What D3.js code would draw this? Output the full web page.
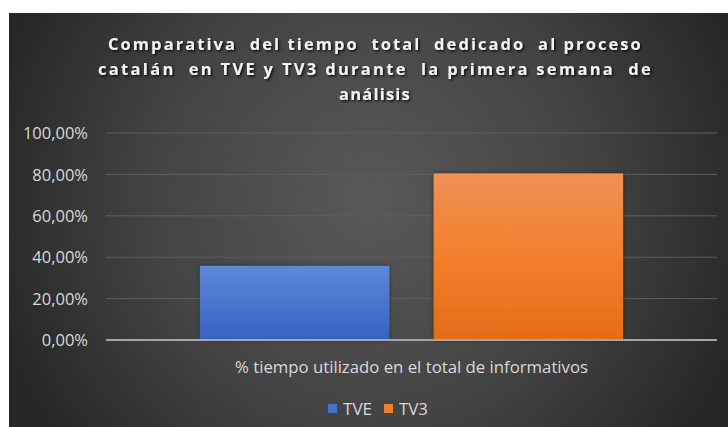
<!DOCTYPE html>
<html><head><meta charset="utf-8">
<script src="https://cdn.jsdelivr.net/npm/d3@7/dist/d3.min.js"></script>
<style>html,body{margin:0;padding:0;background:#fff;}svg{display:block;}</style>
</head><body>
<script>
const categories = ["% tiempo utilizado en el total de informativos"];
const seriesNames = ["TVE", "TV3"];
const tveValues = [0.358];
const tv3Values = [0.805];
const yTicks = [0, 0.2, 0.4, 0.6, 0.8, 1.0];
const titleLines = ["Comparativa  del tiempo  total  dedicado  al proceso", "catalán  en TVE y TV3 durante  la primera semana  de", "análisis"];

const W = 728, H = 427;
const svg = d3.select("body").append("svg").attr("width", W).attr("height", H);
const defs = svg.append("defs");

const bg = defs.append("radialGradient").attr("id", "bg").attr("gradientUnits", "userSpaceOnUse")
  .attr("cx", 370).attr("cy", 200).attr("r", 390);
bg.append("stop").attr("offset", "0").attr("stop-color", "#595959");
bg.append("stop").attr("offset", "0.55").attr("stop-color", "#444444");
bg.append("stop").attr("offset", "1").attr("stop-color", "#272727");

const gBlue = defs.append("linearGradient").attr("id", "gBlue").attr("x1", 0).attr("y1", 0).attr("x2", 0).attr("y2", 1);
gBlue.append("stop").attr("offset", "0").attr("stop-color", "#5e88d8");
gBlue.append("stop").attr("offset", "1").attr("stop-color", "#3563c2");
const gOr = defs.append("linearGradient").attr("id", "gOr").attr("x1", 0).attr("y1", 0).attr("x2", 0).attr("y2", 1);
gOr.append("stop").attr("offset", "0").attr("stop-color", "#f09155");
gOr.append("stop").attr("offset", "0.5").attr("stop-color", "#f27f2c");
gOr.append("stop").attr("offset", "1").attr("stop-color", "#e46c18");

const sh = defs.append("filter").attr("id", "sh").attr("x", "-10%").attr("y", "-30%").attr("width", "120%").attr("height", "160%");
sh.append("feDropShadow").attr("dx", 1.5).attr("dy", 1.5).attr("stdDeviation", 1.2).attr("flood-color", "#000").attr("flood-opacity", 0.8);
const bsh = defs.append("filter").attr("id", "bsh").attr("x", "-10%").attr("y", "-10%").attr("width", "120%").attr("height", "120%");
bsh.append("feDropShadow").attr("dx", 0).attr("dy", 0).attr("stdDeviation", 2).attr("flood-color", "#000").attr("flood-opacity", 0.45);

svg.append("rect").attr("x", 9).attr("y", 13).attr("width", W - 9).attr("height", H - 13).attr("fill", "url(#bg)");

// title
const titleWidths = [534, 554, 72];
const tg = svg.append("g").attr("filter", "url(#sh)");
titleLines.forEach((t, i) => {
  tg.append("text").attr("x", 375).attr("y", 50 + i * 25)
    .attr("text-anchor", "middle").attr("fill", "#f2f2f2")
    .attr("font-family", "'Open Sans', sans-serif").attr("font-weight", "bold")
    .attr("font-size", "16.5px").attr("letter-spacing", "1.2px").attr("xml:space", "preserve")
    .attr("textLength", titleWidths[i]).attr("lengthAdjust", "spacing").text(t);
});

const x0 = d3.scaleBand().domain(categories).range([106, 717]).paddingOuter(0.222).paddingInner(0);
const x1 = d3.scaleBand().domain(seriesNames).range([0, x0.bandwidth()]).paddingInner(0.19);
const y = d3.scaleLinear().domain([0, 1]).range([340, 133]);

// gridlines
svg.append("g").selectAll("line").data(yTicks.filter(d => d > 0)).join("line")
  .attr("x1", 106).attr("x2", 717).attr("y1", d => y(d)).attr("y2", d => y(d))
  .attr("stroke", "#5e5e5e").attr("stroke-width", 1);

// y axis
const yAxis = d3.axisLeft(y).tickValues(yTicks).tickSize(0).tickPadding(0)
  .tickFormat(d => (d * 100).toFixed(2).replace(".", ",") + "%");
const ya = svg.append("g").attr("transform", "translate(88,0)").call(yAxis);
ya.select(".domain").remove();
ya.selectAll("text").attr("fill", "#d9d9d9").attr("font-family", "'Open Sans', sans-serif").attr("font-size", "16.5px").attr("dy", "0.34em");

// bars
const data = categories.map((c, i) => ({ cat: c, vals: [{ s: "TVE", v: tveValues[i] }, { s: "TV3", v: tv3Values[i] }] }));
const colors = { TVE: "url(#gBlue)", TV3: "url(#gOr)" };
const bg2 = svg.append("g").selectAll("g").data(data).join("g").attr("transform", d => `translate(${x0(d.cat)},0)`);
bg2.selectAll("rect").data(d => d.vals).join("rect")
  .attr("x", d => x1(d.s)).attr("width", x1.bandwidth())
  .attr("y", d => y(d.v)).attr("height", d => y(0) - y(d.v))
  .attr("fill", d => colors[d.s]).attr("filter", "url(#bsh)");

// x axis
const xAxis = d3.axisBottom(x0).tickSize(0).tickPadding(0);
const xa = svg.append("g").attr("transform", `translate(0,${y(0)})`).call(xAxis);
xa.select(".domain").attr("stroke", "#a6a6a6").attr("stroke-width", 2).attr("d", "M106,0H717");
xa.selectAll("text").attr("fill", "#d9d9d9").attr("font-family", "'Open Sans', sans-serif").attr("font-size", "16px")
  .attr("dy", 0).attr("y", 33).attr("textLength", 353).attr("lengthAdjust", "spacingAndGlyphs");

// legend
const legend = svg.append("g");
const legendX = [328, 384];
const legendColors = { TVE: "#4472c4", TV3: "#ed7d31" };
seriesNames.forEach((s, i) => {
  legend.append("rect").attr("x", legendX[i]).attr("y", 404).attr("width", 9).attr("height", 9).attr("fill", legendColors[s]);
  legend.append("text").attr("x", legendX[i] + 15).attr("y", 415).attr("fill", "#d9d9d9")
    .attr("font-family", "'Open Sans', sans-serif").attr("font-size", "16px")
    .attr("textLength", 29).attr("lengthAdjust", "spacingAndGlyphs").text(s);
});
</script>
</body></html>
